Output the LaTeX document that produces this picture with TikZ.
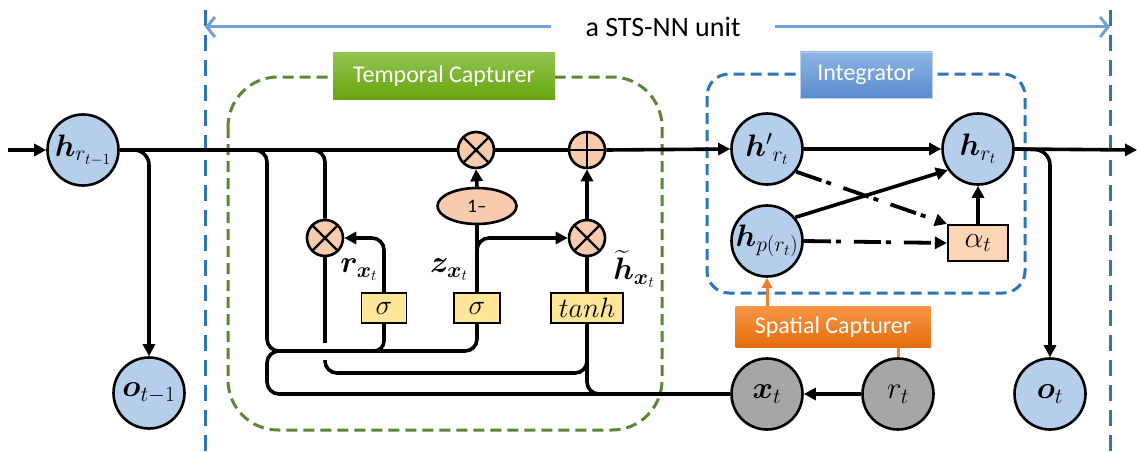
\RequirePackage{fix-cm}
\documentclass[tikz,border=0pt]{standalone}
\usepackage{amsmath}
\usepackage{bm}
\usepackage{fontspec}
\setmainfont{Carlito}
\usetikzlibrary{arrows.meta,shapes.geometric}
\definecolor{cblue}{RGB}{180,206,235}
\definecolor{cgray}{RGB}{166,166,166}
\definecolor{cpeach}{RGB}{248,203,173}
\definecolor{cyellow}{RGB}{255,230,153}
\definecolor{calpha}{RGB}{252,213,181}
\definecolor{dblue}{RGB}{46,117,182}
\definecolor{lblue}{RGB}{112,160,215}
\definecolor{dgreen}{RGB}{90,135,50}
\definecolor{orng}{RGB}{237,125,49}
\definecolor{gtop}{RGB}{146,196,80}
\definecolor{gbot}{RGB}{103,165,15}
\definecolor{btop}{RGB}{141,180,226}
\definecolor{bbot}{RGB}{88,140,205}
\definecolor{otop}{RGB}{247,150,70}
\definecolor{obot}{RGB}{228,108,10}
\tikzset{
  conn/.style={line width=3.6pt, black},
  arr/.style={conn, -{Triangle[length=12pt,width=12pt]}},
  darr/.style={line width=3.8pt, black, dash pattern=on 27pt off 5pt on 5pt off 13pt, -{Triangle[length=12pt,width=12pt]}},
  hnode/.style={circle, draw, line width=2.6pt, fill=cblue, minimum size=71pt, inner sep=0pt, font=\fontsize{31}{34}\selectfont},
  gnode/.style={hnode, fill=cgray},
  opnode/.style={circle, draw, line width=2.6pt, fill=cpeach, minimum size=36pt, inner sep=0pt},
  otimesnode/.style={opnode, path picture={\draw[line width=2.2pt] (path picture bounding box.north west) -- (path picture bounding box.south east) (path picture bounding box.north east) -- (path picture bounding box.south west);}},
  oplusnode/.style={opnode, path picture={\draw[line width=2.2pt] (path picture bounding box.north) -- (path picture bounding box.south) (path picture bounding box.east) -- (path picture bounding box.west);}},
  gatebox/.style={draw, line width=1.4pt, fill=cyellow, minimum height=30pt, inner sep=1pt, font=\fontsize{28}{30}\selectfont},
  lbl/.style={font=\fontsize{31}{34}\selectfont, inner sep=0pt},
  capbox/.style={text=white, font=\fontsize{24}{28}\selectfont, minimum height=46pt, inner sep=0pt},
  tarrow/.style={lblue, line width=3pt, -{Straight Barb[length=8pt,width=20pt,line width=3pt]}},
  ovdash/.style={dblue, line width=3pt, dash pattern=on 16pt off 9pt},
}
\begin{document}
\begin{tikzpicture}[x=1pt,y=-1pt]
\useasboundingbox (0,0) rectangle (1137,452);
% unit boundaries
\draw[ovdash] (205,10) -- (205,452);
\draw[ovdash] (1110,10) -- (1110,452);
\node[font=\fontsize{28}{32}\selectfont, inner xsep=34pt, inner ysep=0pt] (title) at (663,27) {a STS-NN unit};
\coordinate (uL) at (205,27);
\coordinate (uR) at (1110,27);
\draw[tarrow] (title.west) -- (uL);
\draw[tarrow] (title.east) -- (uR);
% group frames
\draw[dgreen, line width=3pt, dash pattern=on 11pt off 6pt, rounded corners=50pt] (228,77) rectangle (662,430);
\draw[dblue, line width=3pt, dash pattern=on 11pt off 6pt, rounded corners=22pt] (707,74) rectangle (1025,293);
\node[capbox, top color=gtop, bottom color=gbot, minimum width=222pt] (tc) at (444,76) {Temporal Capturer};
\node[capbox, top color=btop, bottom color=bbot, minimum width=132pt, draw=btop!60!white, line width=0.8pt] (ig) at (866,75) {Integrator};
% nodes
\node[hnode] (hprev) at (83,150) {$\bm{h}_{r_{t-1}}$};
\node[hnode] (oprev) at (149,393) {$\bm{o}_{t-1}$};
\node[otimesnode] (oz) at (476,150) {};
\node[oplusnode] (op) at (587,150) {};
\node[otimesnode] (or) at (325,238) {};
\node[otimesnode] (oh) at (587,238) {};
\node[ellipse, draw, line width=2.6pt, fill=cpeach, minimum width=79pt, minimum height=36pt, inner sep=0pt, font=\fontsize{19}{22}\selectfont] (om) at (477,206) {1–};
\node[gatebox, minimum width=45pt] (sr) at (384,308) {$\sigma$};
\node[gatebox, minimum width=46pt] (sz) at (477,308) {$\sigma$};
\node[gatebox, minimum width=72pt] (st) at (587,308) {$tanh$};
\node[lbl] (lr) at (359,270) {$\bm{r}_{\bm{x}_t}$};
\node[lbl] (lz) at (449,270) {$\bm{z}_{\bm{x}_t}$};
\node[lbl] (lh) at (634,269) {$\widetilde{\bm{h}}_{\bm{x}_t}$};
\node[hnode] (hp1) at (767,149) {${\bm{h}'}_{r_t}$};
\node[hnode] (hrt) at (978,149) {$\bm{h}_{r_t}$};
\node[hnode] (hpp) at (767,241) {$\bm{h}_{p(r_t)}$};
\node[draw, line width=2.2pt, fill=calpha, minimum width=60pt, minimum height=36pt, inner sep=0pt, font=\fontsize{30}{32}\selectfont] (al) at (978,243) {$\alpha_t$};
\node[capbox, top color=otop, bottom color=obot, minimum width=195pt, minimum height=41pt] (sc) at (833,327) {Spatial Capturer};
\node[gnode] (xt) at (767,394) {$\bm{x}_t$};
\node[gnode] (rt) at (898,394) {$r_t$};
\node[hnode] (ot) at (1050,394) {$\bm{o}_t$};
% coordinates
\coordinate (in) at (8,150);
\coordinate (out) at (1137,150);
% main line
\draw[arr] (in) -- (hprev.west);
\draw[conn] (hprev.east) -- (oz.west);
\draw[conn] (oz.east) -- (op.west);
\draw[arr] (op.east) -- (hp1.west);
\draw[arr, rounded corners=15pt] (hprev.east) -- (149,150) -- (oprev.north);
% temporal capturer wiring
\coordinate (b1) at (250,150);
\coordinate (b2) at (310,150);
\draw[conn, rounded corners=12pt] (b1) -- (267,150) -- (267,351) -- (477,351) -- (sz.south);
\draw[conn, rounded corners=10pt] (370,351) -- (384,351) -- (sr.south);
\draw[conn, rounded corners=12pt] (xt.west) -- (267,394) -- (267,351) -- (290,351);
\draw[conn, rounded corners=12pt] (st.south) -- (587,394) -- (605,394);
\draw[conn, rounded corners=12pt] (b2) -- (325,150) -- (or.north);
\draw[conn] (or.south) -- (325,343);
\draw[conn, rounded corners=12pt] (325,360) -- (325,373) -- (587,373) -- (587,355);
\draw[arr, rounded corners=12pt] (sr.north) -- (384,238) -- (or.east);
\draw[conn] (sz.north) -- (om.south);
\draw[arr] (om.north) -- (oz.south);
\draw[arr, rounded corners=12pt] (477,258) -- (477,238) -- (oh.west);
\draw[conn] (st.north) -- (oh.south);
\draw[arr] (oh.north) -- (op.south);
% integrator
\draw[arr] (hp1.east) -- (hrt.west);
\draw[arr] (hpp.40) -- (hrt.215);
\draw[darr] (hp1.-38) -- (al.north west);
\draw[darr] (hpp.east) -- (al.west);
\draw[arr] (al.north) -- (hrt.south);
\draw[arr] (hrt.east) -- (out);
\draw[arr, rounded corners=15pt] (hrt.east) -- (1050,150) -- (ot.north);
% spatial capturer
\draw[orng, line width=3pt] (rt.north) -- (rt.north |- sc.south);
\draw[orng, line width=3pt, -{Triangle[length=10pt,width=10pt]}] (sc.north -| hpp) -- (hpp.south);
\draw[arr] (rt.west) -- (xt.east);
\end{tikzpicture}
\end{document}
